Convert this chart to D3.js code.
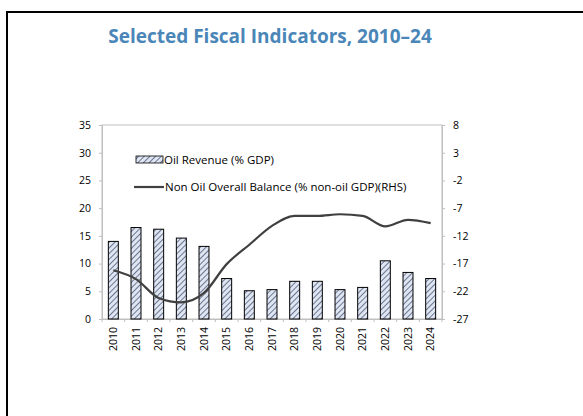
<!DOCTYPE html>
<html><head><meta charset="utf-8">
<script src="https://cdn.jsdelivr.net/npm/d3@7"></script>
<style>body{margin:0;background:#fff;font-family:"Open Sans",sans-serif;}</style>
</head><body>
<svg id="c" width="583" height="416"></svg>
<script>
const years = ["2010","2011","2012","2013","2014","2015","2016","2017","2018","2019","2020","2021","2022","2023","2024"];
const oilRevenue = [14.0,16.5,16.2,14.6,13.1,7.3,5.1,5.3,6.8,6.8,5.3,5.7,10.5,8.4,7.3];
const nonOilBalance = [-18.2,-19.8,-23.2,-24.0,-22.3,-17.1,-13.6,-10.2,-8.4,-8.4,-8.1,-8.4,-10.3,-9.1,-9.7];
const leftTicks = [0,5,10,15,20,25,30,35];
const rightTicks = [-27,-22,-17,-12,-7,-2,3,8];
const title = "Selected Fiscal Indicators, 2010–24";
const legendLabels = ["Oil Revenue (% GDP)","Non Oil Overall Balance (% non-oil GDP)(RHS)"];

const svg = d3.select("#c");
const L=102, R=442, T=125, B=319;
const x = d3.scaleBand().domain(years).range([L,R]).paddingInner(0.56).paddingOuter(0.28);
const yL = d3.scaleLinear().domain([0,35]).range([B,T]);
const yR = d3.scaleLinear().domain([-27,8]).range([B,T]);

// outer frame
svg.append("rect").attr("x",7).attr("y",12).attr("width",600).attr("height",420)
  .attr("fill","none").attr("stroke","#000").attr("stroke-width",2);

svg.append("text").attr("x",270).attr("y",43).attr("text-anchor","middle")
  .attr("font-size",19).attr("font-weight","bold").attr("fill","#4a86b8").text(title);

const defs = svg.append("defs");
const pat = defs.append("pattern").attr("id","hatch").attr("patternUnits","userSpaceOnUse")
  .attr("width",4).attr("height",4).attr("patternTransform","rotate(45)");
pat.append("rect").attr("width",4).attr("height",4).attr("fill","#dfe5f1");
pat.append("line").attr("x1",0).attr("y1",0).attr("x2",0).attr("y2",4).attr("stroke","#2a3a5e").attr("stroke-width",1.3);

// plot frame
svg.append("rect").attr("x",L).attr("y",T).attr("width",R-L).attr("height",B-T)
  .attr("fill","none").attr("stroke","#bfbfbf").attr("stroke-width",1);

// axes
const fmt = d => String(d);
const axL = svg.append("g").attr("transform",`translate(${L},0)`)
  .call(d3.axisLeft(yL).tickValues(leftTicks).tickFormat(fmt).tickSize(3).tickPadding(8));
const axR = svg.append("g").attr("transform",`translate(${R},0)`)
  .call(d3.axisRight(yR).tickValues(rightTicks).tickFormat(fmt).tickSize(3).tickPadding(8));
const axB = svg.append("g").attr("transform",`translate(0,${B})`)
  .call(d3.axisBottom(x).tickSize(0).tickPadding(6));
[axL,axR,axB].forEach(a=>{
  a.select(".domain").attr("stroke","#bfbfbf");
  a.selectAll(".tick line").attr("stroke","#bfbfbf");
  a.selectAll("text").attr("font-family","Open Sans").attr("font-size",10.5).attr("fill","#000");
});
axB.selectAll(".tick text").attr("transform","rotate(-90)").attr("text-anchor","end")
  .attr("dy","0.35em").attr("y",0).attr("x",-8);
// x boundary tick marks
svg.append("g").selectAll("line").data(d3.range(years.length+1)).join("line")
  .attr("x1",i=>L+i*(R-L)/years.length).attr("x2",i=>L+i*(R-L)/years.length)
  .attr("y1",B).attr("y2",B+3).attr("stroke","#bfbfbf");

// bars
svg.append("g").selectAll("rect").data(years).join("rect")
  .attr("x",d=>x(d)).attr("width",x.bandwidth())
  .attr("y",(d,i)=>yL(oilRevenue[i])).attr("height",(d,i)=>B-yL(oilRevenue[i]))
  .attr("fill","url(#hatch)").attr("stroke","#000").attr("stroke-width",1);

// line
const line = d3.line().x((d,i)=>x(years[i])+x.bandwidth()/2).y(d=>yR(d)).curve(d3.curveMonotoneX);
svg.append("path").datum(nonOilBalance).attr("d",line).attr("fill","none")
  .attr("stroke","#404040").attr("stroke-width",2.2);

// legend
svg.append("rect").attr("x",136).attr("y",156).attr("width",27).attr("height",7)
  .attr("fill","url(#hatch)").attr("stroke","#000").attr("stroke-width",0.8);
svg.append("text").attr("x",164).attr("y",163.5).attr("font-size",11.5).text(legendLabels[0]);
svg.append("line").attr("x1",134).attr("x2",164).attr("y1",187).attr("y2",187)
  .attr("stroke","#404040").attr("stroke-width",2.2);
svg.append("text").attr("x",165).attr("y",191).attr("font-size",11.5).text(legendLabels[1]);
</script>
</body></html>
